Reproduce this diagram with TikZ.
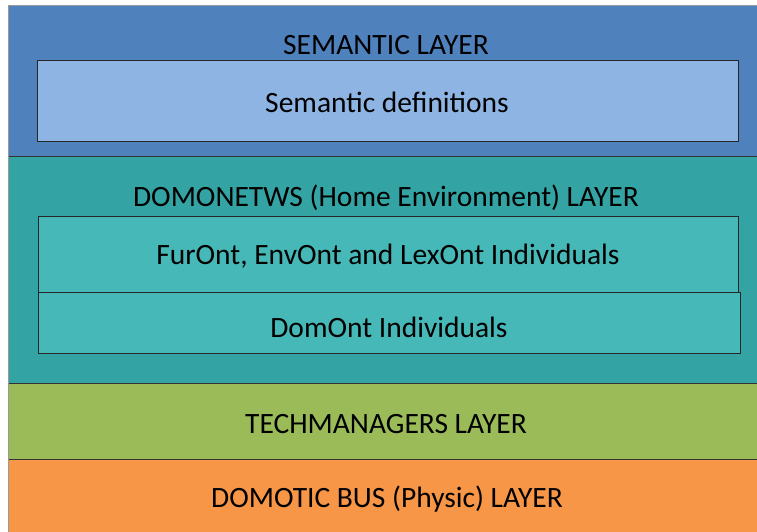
\documentclass[tikz,border=0pt]{standalone}
\usepackage{fontspec}
\setmainfont{Carlito}
\definecolor{semblue}{HTML}{4F81BD}
\definecolor{semlight}{HTML}{8EB4E3}
\definecolor{tealdark}{HTML}{33A3A3}
\definecolor{teallight}{HTML}{45B8B7}
\definecolor{techgreen}{HTML}{9BBB59}
\definecolor{busorange}{HTML}{F79646}
\tikzset{
  layer/.style={draw=black!80, line width=0.8pt},
  innerbox/.style={draw=black!85, line width=0.8pt},
  lbl/.style={font=\fontsize{29.5}{34}\selectfont, text=black, inner sep=0pt},
}
\begin{document}
\begin{tikzpicture}[x=1pt,y=-1pt]
\useasboundingbox (0,0) rectangle (757,532);
\fill[white] (0,0) rectangle (757,532);
% layers
\filldraw[layer, fill=semblue] (8,5) rectangle (760,156);
\filldraw[layer, fill=tealdark] (8,156) rectangle (760,383);
\filldraw[layer, fill=techgreen] (8,383) rectangle (760,459);
\filldraw[layer, fill=busorange] (8,459) rectangle (760,540);
\draw[black!40, line width=0.8pt] (8,5) -- (8,532);
\draw[black!40, line width=0.8pt] (8,5) -- (757,5);
% inner boxes
\filldraw[innerbox, fill=semlight] (37,60) rectangle (738,141);
\filldraw[innerbox, fill=teallight] (38,216) rectangle (738,292);
\filldraw[innerbox, fill=teallight] (38,292) rectangle (740,353);
% labels
\node[lbl] (sem) at (386,45) {SEMANTIC LAYER};
\node[lbl] (semdef) at (387,102) {Semantic definitions};
\node[lbl] (dom) at (386,198) {DOMONETWS (Home Environment) LAYER};
\node[lbl] (fur) at (388,256) {FurOnt, EnvOnt and LexOnt Individuals};
\node[lbl] (domont) at (389,327) {DomOnt Individuals};
\node[lbl] (tech) at (386,424) {TECHMANAGERS LAYER};
\node[lbl] (bus) at (387,499) {DOMOTIC BUS (Physic) LAYER};
\end{tikzpicture}
\end{document}
